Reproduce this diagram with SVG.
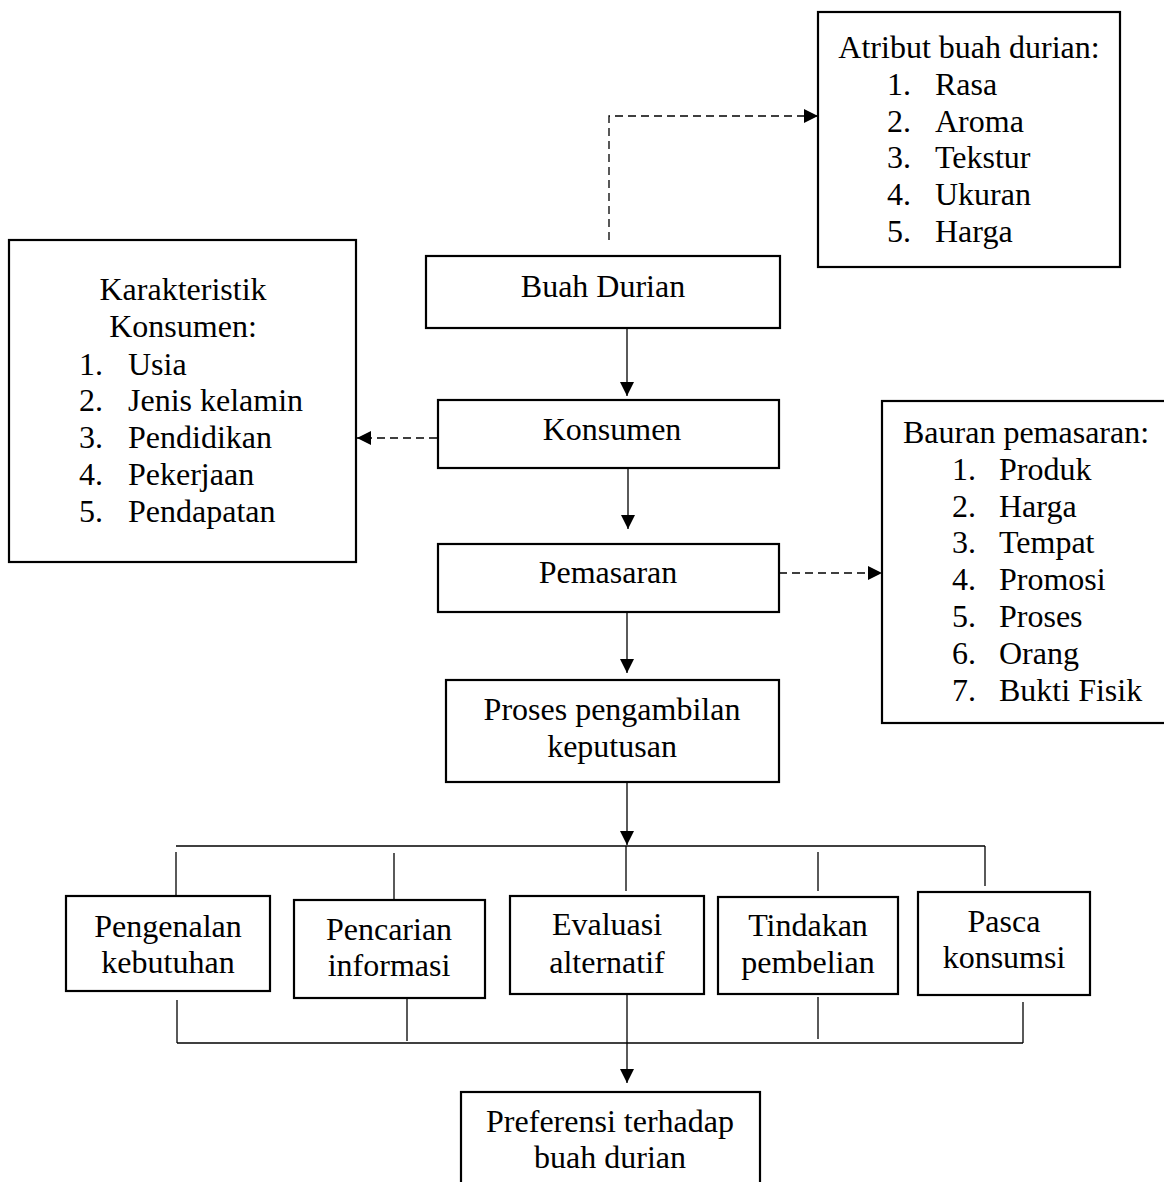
<svg xmlns="http://www.w3.org/2000/svg" width="1164" height="1182" viewBox="0 0 1164 1182">
<defs>
<style>
.box{fill:#fff;stroke:#000;stroke-width:2.2}
.t{font-family:"Liberation Serif","Times New Roman",serif;font-size:32px;fill:#000}
.c{text-anchor:middle}
.ln{fill:none;stroke:#000;stroke-width:1.3}
.dash{stroke-dasharray:8 5}
</style>
<marker id="ah" viewBox="0 0 14 14" refX="14" refY="7" markerWidth="14" markerHeight="14" orient="auto" markerUnits="userSpaceOnUse"><path d="M0,0 L14,7 L0,14 z" fill="#000"/></marker>
</defs>
<rect width="1164" height="1182" fill="#fff"/>

<g id="connectors">
<line class="ln" x1="627" y1="328" x2="627" y2="396" marker-end="url(#ah)"/>
<line class="ln" x1="628" y1="468" x2="628" y2="529" marker-end="url(#ah)"/>
<line class="ln" x1="627" y1="612" x2="627" y2="673" marker-end="url(#ah)"/>
<line class="ln" x1="627" y1="782" x2="627" y2="845" marker-end="url(#ah)"/>
<line class="ln" x1="176" y1="846" x2="985" y2="846"/>
<line class="ln" x1="176" y1="852" x2="176" y2="895"/>
<line class="ln" x1="394" y1="853" x2="394" y2="899"/>
<line class="ln" x1="626" y1="846" x2="626" y2="891"/>
<line class="ln" x1="818" y1="852" x2="818" y2="891"/>
<line class="ln" x1="985" y1="846" x2="985" y2="886"/>
<line class="ln" x1="177" y1="1000" x2="177" y2="1043"/>
<line class="ln" x1="407" y1="998" x2="407" y2="1041"/>
<line class="ln" x1="818" y1="997" x2="818" y2="1039"/>
<line class="ln" x1="1023" y1="1002" x2="1023" y2="1043"/>
<line class="ln" x1="177" y1="1043" x2="1023" y2="1043"/>
<line class="ln" x1="627" y1="995" x2="627" y2="1083" marker-end="url(#ah)"/>
<path class="ln dash" d="M609,240 V116 H818" marker-end="url(#ah)"/>
<path class="ln dash" d="M437,438 H357" marker-end="url(#ah)"/>
<path class="ln dash" d="M779,573 H882" marker-end="url(#ah)"/>
</g>

<g id="atribut">
<rect class="box" x="818" y="12" width="302" height="255"/>
<text class="t c" x="969" y="58">Atribut buah durian:</text>
<text class="t" x="887" y="95">1.</text><text class="t" x="935" y="95">Rasa</text>
<text class="t" x="887" y="132">2.</text><text class="t" x="935" y="132">Aroma</text>
<text class="t" x="887" y="168">3.</text><text class="t" x="935" y="168">Tekstur</text>
<text class="t" x="887" y="205">4.</text><text class="t" x="935" y="205">Ukuran</text>
<text class="t" x="887" y="242">5.</text><text class="t" x="935" y="242">Harga</text>
</g>

<g id="karakteristik">
<rect class="box" x="9" y="240" width="347" height="322"/>
<text class="t c" x="183" y="300">Karakteristik</text>
<text class="t c" x="183" y="337">Konsumen:</text>
<text class="t" x="79" y="375">1.</text><text class="t" x="128" y="375">Usia</text>
<text class="t" x="79" y="411">2.</text><text class="t" x="128" y="411">Jenis kelamin</text>
<text class="t" x="79" y="448">3.</text><text class="t" x="128" y="448">Pendidikan</text>
<text class="t" x="79" y="485">4.</text><text class="t" x="128" y="485">Pekerjaan</text>
<text class="t" x="79" y="522">5.</text><text class="t" x="128" y="522">Pendapatan</text>
</g>

<g id="bauran">
<rect class="box" x="882" y="401" width="292" height="322"/>
<text class="t" x="903" y="443">Bauran pemasaran:</text>
<text class="t" x="952" y="480">1.</text><text class="t" x="999" y="480">Produk</text>
<text class="t" x="952" y="517">2.</text><text class="t" x="999" y="517">Harga</text>
<text class="t" x="952" y="553">3.</text><text class="t" x="999" y="553">Tempat</text>
<text class="t" x="952" y="590">4.</text><text class="t" x="999" y="590">Promosi</text>
<text class="t" x="952" y="627">5.</text><text class="t" x="999" y="627">Proses</text>
<text class="t" x="952" y="664">6.</text><text class="t" x="999" y="664">Orang</text>
<text class="t" x="952" y="701">7.</text><text class="t" x="999" y="701">Bukti Fisik</text>
</g>

<g id="buah-durian">
<rect class="box" x="426" y="256" width="354" height="72"/>
<text class="t c" x="603" y="297">Buah Durian</text>
</g>

<g id="konsumen">
<rect class="box" x="438" y="400" width="341" height="68"/>
<text class="t c" x="612" y="440">Konsumen</text>
</g>

<g id="pemasaran">
<rect class="box" x="438" y="544" width="341" height="68"/>
<text class="t c" x="608" y="583">Pemasaran</text>
</g>

<g id="proses">
<rect class="box" x="446" y="680" width="333" height="102"/>
<text class="t c" x="612" y="720">Proses pengambilan</text>
<text class="t c" x="612" y="757">keputusan</text>
</g>

<g id="pengenalan">
<rect class="box" x="66" y="896" width="204" height="95"/>
<text class="t c" x="168" y="937">Pengenalan</text>
<text class="t c" x="168" y="973">kebutuhan</text>
</g>

<g id="pencarian">
<rect class="box" x="294" y="900" width="191" height="98"/>
<text class="t c" x="389" y="940">Pencarian</text>
<text class="t c" x="389" y="976">informasi</text>
</g>

<g id="evaluasi">
<rect class="box" x="510" y="896" width="194" height="98"/>
<text class="t c" x="607" y="935">Evaluasi</text>
<text class="t c" x="607" y="973">alternatif</text>
</g>

<g id="tindakan">
<rect class="box" x="718" y="897" width="180" height="97"/>
<text class="t c" x="808" y="936">Tindakan</text>
<text class="t c" x="808" y="973">pembelian</text>
</g>

<g id="pasca">
<rect class="box" x="918" y="892" width="172" height="103"/>
<text class="t c" x="1004" y="932">Pasca</text>
<text class="t c" x="1004" y="968">konsumsi</text>
</g>

<g id="preferensi">
<rect class="box" x="461" y="1092" width="299" height="100"/>
<text class="t c" x="610" y="1132">Preferensi terhadap</text>
<text class="t c" x="610" y="1168">buah durian</text>
</g>
</svg>
